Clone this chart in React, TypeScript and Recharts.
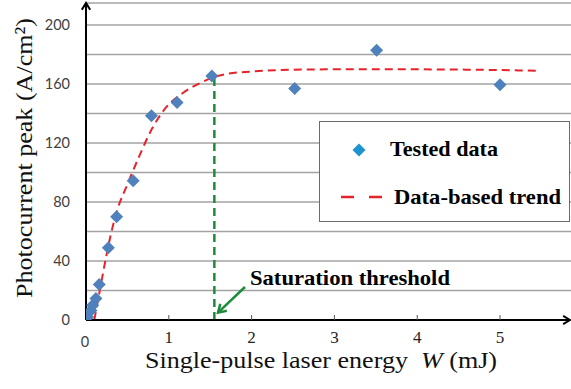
import { ComposedChart, Scatter, Line, XAxis, YAxis, CartesianGrid, ReferenceLine, Legend } from 'recharts'

// tested points (W in mJ, peak in A/cm2)
const testedW = [0.02, 0.06, 0.08, 0.12, 0.16, 0.27, 0.37, 0.57, 0.79, 1.1, 1.52, 2.52, 3.51, 5.0]
const testedJ = [2, 6.5, 10, 14.5, 24, 49, 70, 94.5, 138.5, 147.5, 165.5, 157, 183, 159.5]

// dashed trend curve
const trendW = [0.1, 0.18, 0.24, 0.3, 0.38, 0.5, 0.65, 0.79, 0.95, 1.17, 1.37, 1.53, 1.71, 2.0, 2.34, 3.0, 4.0, 5.0, 5.49]
const trendJ = [0, 24, 42, 58, 75, 92, 112, 129, 143, 154, 160.5, 164.5, 167, 168.5, 169.5, 170, 170, 169.5, 169]

const xTicks = [0, 1, 2, 3, 4, 5]
const yTicks = [0, 20, 40, 60, 80, 100, 120, 140, 160, 180, 200]
const seriesNames = ['Tested data', 'Data-based trend']
const thresholdW = 1.55
const thresholdJ = 165.5

const tested = testedW.map((x, i) => ({ x, y: testedJ[i] }))
const trend = trendW.map((x, i) => ({ x, y: trendJ[i] }))

const serif = '"Times New Roman", "Liberation Serif", Tinos, serif'
const sans = 'Lato, "Open Sans", sans-serif'
const green = '#1e8a3c'

const chevron = (x1: number, y1: number, x2: number, y2: number, len = 8) => {
  const a = Math.atan2(y2 - y1, x2 - x1)
  const p1 = [x2 - len * Math.cos(a - 0.55), y2 - len * Math.sin(a - 0.55)]
  const p2 = [x2 - len * Math.cos(a + 0.55), y2 - len * Math.sin(a + 0.55)]
  return `${p1[0]},${p1[1]} ${x2},${y2} ${p2[0]},${p2[1]}`
}

const AxisArrow = (props: any) => {
  const { x1, y1, x2, y2 } = props
  return (
    <g>
      <line x1={x1} y1={y1} x2={x2} y2={y2} stroke="#000" strokeWidth={2} />
      <polyline points={chevron(x1, y1, x2, y2)} fill="none" stroke="#000" strokeWidth={2} />
    </g>
  )
}

const ThresholdArrow = (props: any) => {
  const { x1, y1, x2, y2 } = props
  return (
    <g>
      <line x1={x1} y1={y1} x2={x2} y2={y2} stroke={green} strokeWidth={2.5} />
      <polyline points={chevron(x1, y1, x2, y2, 9)} fill="none" stroke={green} strokeWidth={2.5} />
      <text x={x1 + 5} y={y1 - 2} style={{ fontFamily: serif }} fontWeight="bold" fontSize={22} textLength={200} lengthAdjust="spacingAndGlyphs" fill="#000">
        Saturation threshold
      </text>
    </g>
  )
}

const Diamond = (props: any) => {
  const { cx, cy } = props
  const r = 6.5
  return <polygon points={`${cx},${cy - r} ${cx + r},${cy} ${cx},${cy + r} ${cx - r},${cy}`} fill="#4f81bd" />
}

const YTick = (props: any) => {
  const { y, payload } = props
  if (payload.value % 40 !== 0) return <g />
  return (
    <text x={70} y={y} dy="0.36em" textAnchor="end" style={{ fontFamily: sans }} fontSize={14.5} fill="#404040">
      {payload.value}
    </text>
  )
}

const XTick = (props: any) => {
  const { x, payload } = props
  if (payload.value === 0) {
    return (
      <text x={x - 1} y={347} textAnchor="middle" style={{ fontFamily: sans }} fontSize={14.5} fill="#404040">
        0
      </text>
    )
  }
  return (
    <g>
      <line x1={x} y1={320} x2={x} y2={315} stroke="#555" strokeWidth={1} />
      <text x={x} y={343} textAnchor="middle" style={{ fontFamily: serif }} fontSize={17} fill="#222">
        {payload.value}
      </text>
    </g>
  )
}

const LegendBox = () => (
  <svg width={252} height={102} style={{ display: 'block' }}>
    <rect x={0.5} y={0.5} width={250} height={100} fill="#fff" stroke="#6b6b6b" strokeWidth={1} />
    <polygon points="40,22.5 46.5,29 40,35.5 33.5,29" fill="#1c95cf" />
    <text x={71} y={35} style={{ fontFamily: serif }} fontWeight="bold" fontSize={21.5} textLength={108} lengthAdjust="spacingAndGlyphs">
      {seriesNames[0]}
    </text>
    <line x1={22} y1={76} x2={64} y2={76} stroke="#e4232b" strokeWidth={2.5} strokeDasharray="13 15" />
    <text x={75} y={82.5} style={{ fontFamily: serif }} fontWeight="bold" fontSize={21.5} textLength={167} lengthAdjust="spacingAndGlyphs">
      {seriesNames[1]}
    </text>
  </svg>
)

export default function App() {
  return (
    <div style={{ position: 'absolute', left: 0, top: 0, width: 571, height: 389, background: '#fff' }}>
      <ComposedChart width={571} height={389} margin={{ top: 3, right: 0, bottom: 0, left: 0 }}>
        <CartesianGrid vertical={false} stroke="#a3a3a3" strokeWidth={1.5} />
        <XAxis
          type="number"
          dataKey="x"
          domain={[0, 5.857]}
          allowDataOverflow
          ticks={xTicks}
          height={69}
          axisLine={false}
          tickLine={false}
          tick={<XTick />}
          label={{
            content: () => (
              <text x={321} y={368} textAnchor="middle" style={{ fontFamily: serif }} fontSize={23} fill="#111" textLength={352} lengthAdjust="spacingAndGlyphs">
                Single-pulse laser energy{'\u00a0\u00a0'}
                <tspan fontStyle="italic">W</tspan> (mJ)
              </text>
            ),
          }}
        />
        <YAxis
          type="number"
          dataKey="y"
          domain={[0, 215]}
          allowDataOverflow
          ticks={yTicks}
          interval={0}
          width={86}
          axisLine={false}
          tickLine={false}
          tick={<YTick />}
          label={{
            content: () => (
              <text
                x={32}
                y={158}
                textAnchor="middle"
                transform="rotate(-90, 32, 158)"
                style={{ fontFamily: serif }}
                fontSize={24}
                fill="#111"
                textLength={280}
                lengthAdjust="spacingAndGlyphs"
              >
                Photocurrent peak (A/cm²)
              </text>
            ),
          }}
        />
        <Legend
          layout="vertical"
          align="center"
          verticalAlign="middle"
          content={() => <LegendBox />}
          wrapperStyle={{ position: 'absolute', left: 319, top: 121, width: 252, height: 102 }}
        />
        <ReferenceLine
          segment={[{ x: thresholdW, y: 0 }, { x: thresholdW, y: thresholdJ }]}
          stroke={green}
          strokeWidth={2.5}
          strokeDasharray="8 5"
          ifOverflow="visible"
        />
        <Line
          data={trend}
          dataKey="y"
          name={seriesNames[1]}
          type="monotone"
          stroke="#e4232b"
          strokeWidth={2}
          strokeDasharray="8 5"
          dot={false}
          isAnimationActive={false}
        />
        <Scatter data={tested} dataKey="y" name={seriesNames[0]} shape={<Diamond />} isAnimationActive={false} />
        <ReferenceLine segment={[{ x: 0, y: 0 }, { x: 0, y: 215 }]} shape={<AxisArrow />} ifOverflow="visible" />
        <ReferenceLine segment={[{ x: 0, y: 0 }, { x: 5.845, y: 0 }]} shape={<AxisArrow />} ifOverflow="visible" />
        <ReferenceLine segment={[{ x: 1.92, y: 22.4 }, { x: 1.594, y: 5 }]} shape={<ThresholdArrow />} ifOverflow="visible" />
      </ComposedChart>
    </div>
  )
}
